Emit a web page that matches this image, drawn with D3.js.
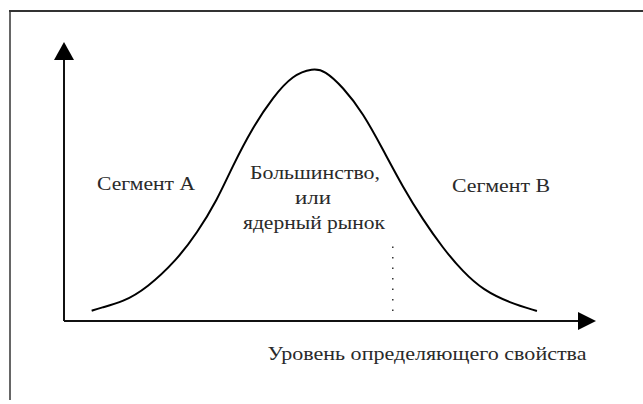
<!DOCTYPE html>
<html lang="ru">
<head>
<meta charset="utf-8">
<title>Сегменты рынка</title>
<script src="https://cdn.jsdelivr.net/npm/d3@7"></script>
<style>
  body { margin: 0; background: #fff; }
  svg text { font-family: "Liberation Serif", "DejaVu Serif", serif; fill: #2a2a2a; }
</style>
</head>
<body>
<script>
// curve: level of property (0..100) vs share (0..100)
var levels = [5.2, 6.8, 11.1, 15.6, 21.2, 25.0, 28.8, 31.6, 35.5, 39.3, 43.0, 46.8, 49.0, 52.4, 56.2, 60.0, 63.7, 67.5, 71.2, 75.0, 78.8, 83.8, 88.9];
var shares = [3.7, 4.7, 6.8, 11.8, 21.9, 31.5, 43.4, 55.2, 69.5, 80.3, 88.2, 90.6, 89.8, 83.9, 74.6, 61.3, 48.0, 36.2, 26.2, 17.6, 11.1, 6.5, 3.6];

// dotted divider between core market and segment B
var dividerLevel = 61.8;
var dividerShares = [3.6, 28];

var segmentLabels = ["Сегмент А", "Сегмент В"];
var coreLabel = ["Большинство,", "или", "ядерный рынок"];
var axisLabel = "Уровень определяющего свойства";

var W = 643, H = 404;
var origin = {x: 64, y: 321};
var xEnd = 596, yEnd = 42;

var svg = d3.select("body").append("svg")
  .attr("width", W)
  .attr("height", H);

var x = d3.scaleLinear().domain([0, 100]).range([origin.x, xEnd]);
var y = d3.scaleLinear().domain([0, 100]).range([origin.y, yEnd]);

// frame lines of the scanned figure
svg.append("line")
  .attr("x1", 9).attr("y1", 11).attr("x2", W).attr("y2", 11)
  .attr("stroke", "#333").attr("stroke-width", 2);
svg.append("line")
  .attr("x1", 10).attr("y1", 11).attr("x2", 10).attr("y2", 400)
  .attr("stroke", "#333").attr("stroke-width", 1.5);

// axes with arrow heads
svg.append("line")
  .attr("x1", x(0)).attr("y1", y(0)).attr("x2", x(0)).attr("y2", y(100) + 16)
  .attr("stroke", "#111").attr("stroke-width", 2);
svg.append("line")
  .attr("x1", x(0)).attr("y1", y(0)).attr("x2", x(100) - 16).attr("y2", y(0))
  .attr("stroke", "#111").attr("stroke-width", 2);

svg.append("path")
  .attr("d", "M" + x(0) + "," + y(100) + "L" + (x(0) - 10) + "," + (y(100) + 18) + "L" + (x(0) + 10) + "," + (y(100) + 18) + "Z")
  .attr("fill", "#000");
svg.append("path")
  .attr("d", "M" + x(100) + "," + y(0) + "L" + (x(100) - 18) + "," + (y(0) - 9) + "L" + (x(100) - 18) + "," + (y(0) + 9) + "Z")
  .attr("fill", "#000");

// bell curve
var pts = levels.map(function(d, i) { return [d, shares[i]]; });
var line = d3.line()
  .x(function(d) { return x(d[0]); })
  .y(function(d) { return y(d[1]); })
  .curve(d3.curveBasis);

svg.append("path")
  .datum(pts)
  .attr("d", line)
  .attr("fill", "none")
  .attr("stroke", "#000")
  .attr("stroke-width", 2);

// divider
svg.append("line")
  .attr("x1", x(dividerLevel)).attr("x2", x(dividerLevel))
  .attr("y1", y(dividerShares[0])).attr("y2", y(dividerShares[1]))
  .attr("stroke", "#333").attr("stroke-width", 1.5)
  .attr("stroke-dasharray", "1.5,9");

// labels
function label(txt, cx, cy, w) {
  svg.append("text")
    .attr("x", cx).attr("y", cy)
    .attr("text-anchor", "middle")
    .attr("font-size", 19)
    .attr("textLength", w)
    .attr("lengthAdjust", "spacingAndGlyphs")
    .text(txt);
}

label(segmentLabels[0], 146, 190, 98);
label(segmentLabels[1], 501, 192, 98);
label(coreLabel[0], 315, 179, 130);
label(coreLabel[1], 313, 204, 36);
label(coreLabel[2], 314, 229, 142);
label(axisLabel, 427, 360, 319);
</script>
</body>
</html>
